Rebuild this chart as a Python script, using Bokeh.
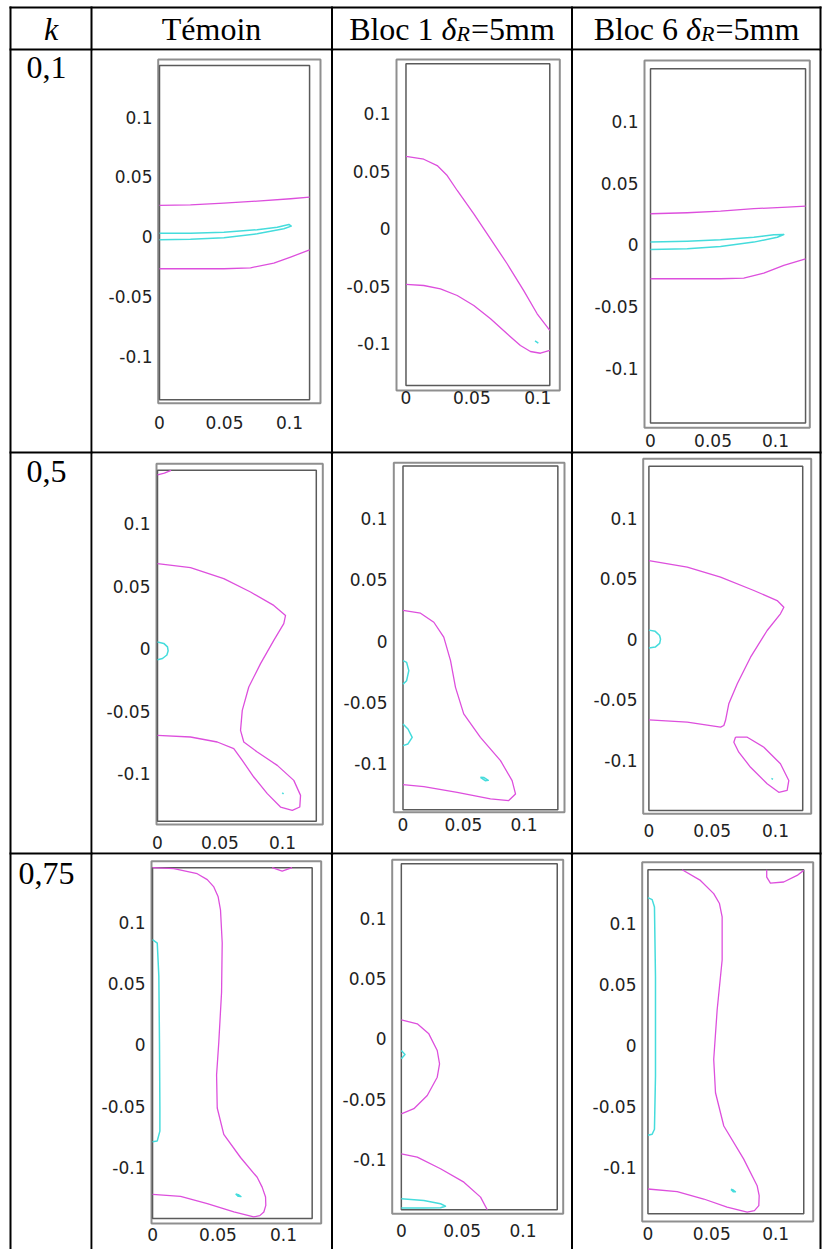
from bokeh.plotting import figure
from bokeh.models import Range1d, FixedTicker
from bokeh.core.properties import value
from bokeh.embed import file_html
from bokeh.resources import INLINE

# ---------------- table texts ----------------
header_k = "k"
header_temoin = "Témoin"
header_bloc = ["Bloc 1 ", "Bloc 6 "]
header_delta = "δ"
header_sub = "R"
header_tail = "=5mm"
row_labels = ["0,1", "0,5", "0,75"]

x_ticks = [0.0, 0.05, 0.1]
x_tick_labels = ["0", "0.05", "0.1"]
y_ticks = [0.1, 0.05, 0.0, -0.05, -0.1]
y_tick_labels = ["0.1", "0.05", "0", "-0.05", "-0.1"]

# ---------------- geometry: (x0, x1, y0, y1) ----------------
p11_outer = [-0.001, 0.1238, -0.1391, 0.1482]
p11_inner = [0.0, 0.1154, -0.1362, 0.1432]
p12_outer = [-0.0072, 0.1168, -0.1406, 0.1472]
p12_inner = [0.0, 0.1092, -0.1363, 0.1435]
p13_outer = [-0.0048, 0.1274, -0.1483, 0.1496]
p13_inner = [0.0, 0.124, -0.1445, 0.1429]
p21_outer = [-0.0008, 0.1322, -0.1406, 0.148]
p21_inner = [0.0, 0.127, -0.138, 0.1428]
p22_outer = [-0.0076, 0.1335, -0.1395, 0.1456]
p22_inner = [0.0, 0.128, -0.1374, 0.1429]
p23_outer = [-0.0045, 0.1282, -0.1445, 0.1493]
p23_inner = [0.0, 0.1215, -0.1418, 0.1432]
p31_outer = [-0.0008, 0.1288, -0.1453, 0.1495]
p31_inner = [0.0, 0.1219, -0.1413, 0.1442]
p32_outer = [-0.0075, 0.133, -0.1449, 0.1482]
p32_inner = [0.0, 0.1281, -0.1416, 0.1449]
p33_outer = [-0.0045, 0.1294, -0.1441, 0.1498]
p33_inner = [0.0, 0.122, -0.1378, 0.1436]

# ---------------- contour lines (magenta m*, cyan c*) ----------------
# k = 0.1, Témoin
p11_m1_x = [0, 0.0238, 0.0495, 0.0751, 0.1008, 0.1154]
p11_m1_y = [0.0262, 0.0267, 0.0281, 0.0298, 0.0318, 0.0331]
p11_m2_x = [0, 0.0238, 0.0495, 0.0700, 0.0879, 0.1008, 0.1154]
p11_m2_y = [-0.0267, -0.0267, -0.0267, -0.0259, -0.0221, -0.0170, -0.0109]
p11_c1_x = [0, 0.0238, 0.0495, 0.0751, 0.0905, 0.0995, 0.1013, 0.0956, 0.0751, 0.0495, 0.0238, 0]
p11_c1_y = [0.0030, 0.0030, 0.0038, 0.0059, 0.0080, 0.0103, 0.0089, 0.0067, 0.0025, -0.0008, -0.0020, -0.0025]
# k = 0.1, Bloc 1
p12_m1_x = [0, 0.0135, 0.0237, 0.0313, 0.0389, 0.0515, 0.0642, 0.0768, 0.0894, 0.0996, 0.1092]
p12_m1_y = [0.0629, 0.0605, 0.055, 0.0463, 0.0333, 0.013, -0.0087, -0.0304, -0.0537, -0.0739, -0.0884]
p12_m2_x = [0, 0.0135, 0.0262, 0.0389, 0.0515, 0.0642, 0.0768, 0.0869, 0.0945, 0.1021, 0.1092]
p12_m2_y = [-0.0484, -0.0493, -0.0522, -0.058, -0.0667, -0.0783, -0.0913, -0.1015, -0.1067, -0.1082, -0.1058]
p12_c1_x = [0.0980, 0.1005]
p12_c1_y = [-0.0974, -0.0994]
# k = 0.1, Bloc 6
p13_m1_x = [0, 0.0294, 0.056, 0.0826, 0.1094, 0.124]
p13_m1_y = [0.0253, 0.0261, 0.0274, 0.0294, 0.0307, 0.0315]
p13_m2_x = [0, 0.0294, 0.056, 0.0746, 0.0906, 0.1066, 0.124]
p13_m2_y = [-0.0274, -0.0274, -0.0274, -0.0269, -0.0229, -0.0166, -0.0112]
p13_c1_x = [0, 0.0294, 0.056, 0.0826, 0.0986, 0.1066, 0.1014, 0.0826, 0.056, 0.0294, 0]
p13_c1_y = [0.0023, 0.0031, 0.0042, 0.0063, 0.0083, 0.0085, 0.0063, 0.0023, -0.0012, -0.0031, -0.0036]
# k = 0.5, Témoin
p21_m1_x = [0, 0.0055, 0.0109]
p21_m1_y = [0.1392, 0.1405, 0.1428]
p21_m2_x = [0, 0.0264, 0.053, 0.0744, 0.093, 0.1024, 0.101, 0.093, 0.0824, 0.073, 0.0678, 0.0664, 0.069,
            0.0798, 0.0958, 0.109, 0.1144, 0.1138, 0.1078, 0.0984, 0.0878, 0.077, 0.0678, 0.061, 0.0478, 0.0264, 0]
p21_m2_y = [0.0681, 0.0649, 0.0561, 0.0454, 0.0347, 0.0267, 0.0201, 0.0067, -0.0119, -0.0306, -0.0493, -0.0653,
            -0.0746, -0.0826, -0.0933, -0.1053, -0.1173, -0.1266, -0.1293, -0.1266, -0.1159, -0.1026, -0.0893,
            -0.0799, -0.0746, -0.0706, -0.0693]
p21_c1_x = [0, 0.005, 0.008, 0.0085, 0.0075, 0.004, 0]
p21_c1_y = [0.0054, 0.0043, 0.0015, -0.0017, -0.005, -0.0078, -0.0087]
p21_c2_x = [0.0998, 0.1008]
p21_c2_y = [-0.1152, -0.1162]
# k = 0.5, Bloc 1
p22_m1_x = [0, 0.0145, 0.0255, 0.0337, 0.0393, 0.0434, 0.0502, 0.064, 0.0806, 0.0902, 0.093, 0.0874, 0.0723,
            0.0448, 0.0172, 0]
p22_m1_y = [0.0251, 0.0229, 0.0155, 0.0033, -0.0158, -0.0376, -0.0593, -0.0784, -0.0974, -0.1137, -0.1246,
            -0.13, -0.1287, -0.1233, -0.1186, -0.117]
p22_c1_x = [0, 0.003, 0.0048, 0.003, 0]
p22_c1_y = [-0.0158, -0.0172, -0.024, -0.0322, -0.035]
p22_c2_x = [0, 0.0041, 0.0076, 0.0041, 0]
p22_c2_y = [-0.0675, -0.0716, -0.0784, -0.0838, -0.0852]
p22_c3_x = [0.064, 0.067, 0.0705, 0.068, 0.064]
p22_c3_y = [-0.111, -0.1112, -0.1135, -0.1138, -0.111]
# k = 0.5, Bloc 6
p23_m1_x = [0, 0.0303, 0.0566, 0.0829, 0.1013, 0.1066, 0.1039, 0.0934, 0.0803, 0.0698, 0.0631, 0.0605, 0.0592,
            0.0566, 0.0303, 0]
p23_m1_y = [0.0651, 0.0596, 0.0513, 0.0403, 0.032, 0.0265, 0.021, 0.0072, -0.0149, -0.0369, -0.0535, -0.0673,
            -0.0714, -0.0728, -0.0687, -0.0667]
p23_m2_x = [0.0684, 0.0777, 0.0908, 0.1039, 0.1105, 0.1092, 0.1026, 0.0934, 0.0803, 0.071, 0.0671, 0.0684]
p23_m2_y = [-0.0811, -0.0811, -0.0894, -0.1031, -0.117, -0.1252, -0.1267, -0.1197, -0.106, -0.0935, -0.0853, -0.0811]
p23_c1_x = [0, 0.005, 0.0085, 0.0092, 0.0085, 0.005, 0]
p23_c1_y = [0.0075, 0.0065, 0.003, 0, -0.0035, -0.0065, -0.0072]
p23_c2_x = [0.0968, 0.098]
p23_c2_y = [-0.1152, -0.116]
# k = 0.75, Témoin
p31_m1_x = [0, 0.0163, 0.0341, 0.0418, 0.0468, 0.0501, 0.0519, 0.0532, 0.0527, 0.0506, 0.0489, 0.0494, 0.0544,
            0.0672, 0.0799, 0.0837, 0.0863, 0.0865, 0.085, 0.0819, 0.0773, 0.0621, 0.0418, 0.0214, 0]
p31_m1_y = [0.1442, 0.1434, 0.1393, 0.1345, 0.1286, 0.1205, 0.1098, 0.083, 0.0427, 0.0024, -0.0245, -0.0513,
            -0.0728, -0.0916, -0.1077, -0.1157, -0.1238, -0.1305, -0.1359, -0.1389, -0.1399, -0.1359, -0.1292,
            -0.1232, -0.1216]
p31_m2_x = [0.0914, 0.099, 0.1066]
p31_m2_y = [0.1442, 0.1415, 0.1442]
p31_c1_x = [0, 0.0036, 0.0048, 0.0053, 0.0056, 0.0056, 0.0036, 0]
p31_c1_y = [0.0856, 0.0829, 0.056, 0.0024, -0.0513, -0.0701, -0.0781, -0.0787]
p31_c2_x = [0.0635, 0.0655, 0.0675, 0.0655, 0.0635]
p31_c2_y = [-0.1212, -0.1218, -0.1234, -0.1232, -0.1212]
# k = 0.75, Bloc 1
p32_m1_x = [0, 0.0131, 0.0226, 0.0295, 0.0314, 0.0295, 0.0213, 0.0103, 0]
p32_m1_y = [0.0157, 0.0124, 0.0041, -0.0097, -0.0207, -0.0318, -0.0469, -0.0579, -0.0621]
p32_m2_x = [0, 0.0131, 0.0322, 0.0514, 0.0651, 0.0706]
p32_m2_y = [-0.0952, -0.098, -0.1076, -0.1187, -0.1311, -0.1416]
p32_c1_x = [0, 0.0185, 0.0322, 0.0363, 0.0322, 0.0185, 0]
p32_c1_y = [-0.1325, -0.1339, -0.1366, -0.1386, -0.1399, -0.1402, -0.14]
p32_c2_x = [0, 0.003, 0]
p32_c2_y = [-0.0097, -0.013, -0.0166]
# k = 0.75, Bloc 6
p33_m1_x = [0.0268, 0.0411, 0.0515, 0.056, 0.0581, 0.0581, 0.0542, 0.0515, 0.0529, 0.0594, 0.075, 0.0855,
            0.0871, 0.0868, 0.0834, 0.0777, 0.062, 0.0437, 0.0229, 0]
p33_m1_y = [0.1436, 0.1349, 0.1241, 0.116, 0.105, 0.0698, 0.0291, -0.0116, -0.0388, -0.066, -0.0931, -0.1148,
            -0.123, -0.1311, -0.1352, -0.1365, -0.1324, -0.1257, -0.1197, -0.1175]
p33_m2_x = [0.093, 0.093, 0.0959, 0.1063, 0.1168, 0.122]
p33_m2_y = [0.1436, 0.1376, 0.1327, 0.1336, 0.139, 0.1431]
p33_c1_x = [0, 0.0033, 0.0051, 0.0059, 0.0059, 0.0051, 0.0033, 0]
p33_c1_y = [0.1208, 0.1192, 0.1132, 0.0562, -0.0252, -0.0686, -0.0727, -0.0735]
p33_c2_x = [0.065, 0.0668, 0.0685, 0.0668, 0.065]
p33_c2_y = [-0.1178, -0.1183, -0.1198, -0.1197, -0.1178]

panels = [
    [dict(outer=p11_outer, inner=p11_inner,
          mag=[(p11_m1_x, p11_m1_y), (p11_m2_x, p11_m2_y)], cyan=[(p11_c1_x, p11_c1_y)]),
     dict(outer=p12_outer, inner=p12_inner,
          mag=[(p12_m1_x, p12_m1_y), (p12_m2_x, p12_m2_y)], cyan=[(p12_c1_x, p12_c1_y)]),
     dict(outer=p13_outer, inner=p13_inner,
          mag=[(p13_m1_x, p13_m1_y), (p13_m2_x, p13_m2_y)], cyan=[(p13_c1_x, p13_c1_y)])],
    [dict(outer=p21_outer, inner=p21_inner,
          mag=[(p21_m1_x, p21_m1_y), (p21_m2_x, p21_m2_y)], cyan=[(p21_c1_x, p21_c1_y), (p21_c2_x, p21_c2_y)]),
     dict(outer=p22_outer, inner=p22_inner,
          mag=[(p22_m1_x, p22_m1_y)],
          cyan=[(p22_c1_x, p22_c1_y), (p22_c2_x, p22_c2_y), (p22_c3_x, p22_c3_y)]),
     dict(outer=p23_outer, inner=p23_inner,
          mag=[(p23_m1_x, p23_m1_y), (p23_m2_x, p23_m2_y)], cyan=[(p23_c1_x, p23_c1_y), (p23_c2_x, p23_c2_y)])],
    [dict(outer=p31_outer, inner=p31_inner,
          mag=[(p31_m1_x, p31_m1_y), (p31_m2_x, p31_m2_y)], cyan=[(p31_c1_x, p31_c1_y), (p31_c2_x, p31_c2_y)]),
     dict(outer=p32_outer, inner=p32_inner,
          mag=[(p32_m1_x, p32_m1_y), (p32_m2_x, p32_m2_y)], cyan=[(p32_c1_x, p32_c1_y), (p32_c2_x, p32_c2_y)]),
     dict(outer=p33_outer, inner=p33_inner,
          mag=[(p33_m1_x, p33_m1_y), (p33_m2_x, p33_m2_y)], cyan=[(p33_c1_x, p33_c1_y), (p33_c2_x, p33_c2_y)])],
]

# ---------------- layout (page pixels) ----------------
PAGE_W, PAGE_H = 824, 1249
V_LINES = [10, 91, 331.5, 571.5, 820]          # table column rules
H_LINES = [7, 49, 452, 853]                    # table row rules
RULE_W = 2
COL_BOX = [(11, 90), (92, 330), (333, 570), (573, 819)]
ROW_BOX = [(8, 48), (50, 451), (453, 852), (854, 1249)]

# page position of each panel's outer rectangle: left, top, right, bottom
FRAMES = [
    [(157.7, 59, 320, 402.7), (396, 59, 559.3, 390), (644, 60, 809.3, 427.3)],
    [(156, 463.3, 322.3, 824), (393.3, 462.3, 564, 811.7), (642.7, 458.3, 810.7, 813.3)],
    [(151, 860.7, 320.7, 1223), (391.7, 859.3, 562.7, 1213.3), (641.7, 861.7, 812.7, 1221)],
]
X_STANDOFF = [[10, -2, 4], [9, 3, 8], [2, 8, 3]]
PAD = 2

MAGENTA = "#dd4fdd"
CYAN = "#45dcdc"
SERIF = "Liberation Serif"
TXT_SIZE = 32
BASE_SHIFT = 10                      # the glyph baseline renders this much below the anchor
HEADER_BASE = 38 - BASE_SHIFT
ROW_BASE = [77 - BASE_SHIFT, 481 - BASE_SHIFT, 883 - BASE_SHIFT]
ROW_LABEL_X = 46


def absolute(left, top):
    return {"position": "absolute", "left": f"{left}px", "top": f"{top}px"}


# ---------------- background: table rules and texts ----------------
bg = figure(width=PAGE_W, height=PAGE_H, x_range=Range1d(0, PAGE_W), y_range=Range1d(PAGE_H, 0),
            x_axis_location=None, y_axis_location=None, output_backend="svg", toolbar_location=None,
            min_border=0, min_border_left=0, min_border_right=0, min_border_top=0, min_border_bottom=0,
            styles=absolute(0, 0))
bg.grid.visible = False
bg.outline_line_color = None
bg.background_fill_color = "white"
bg.border_fill_color = "white"

top_y = H_LINES[0] - RULE_W / 2
bg.segment(x0=V_LINES, y0=[top_y] * len(V_LINES), x1=V_LINES, y1=[PAGE_H] * len(V_LINES),
           line_color="black", line_width=RULE_W)
left_x = V_LINES[0] - RULE_W / 2
right_x = V_LINES[-1] + RULE_W / 2
bg.segment(x0=[left_x] * len(H_LINES), y0=H_LINES, x1=[right_x] * len(H_LINES), y1=H_LINES,
           line_color="black", line_width=RULE_W)

txt = dict(text_font=value(SERIF), text_font_size=f"{TXT_SIZE}px", text_baseline="alphabetic",
           text_color="black")
bg.text(x=[(COL_BOX[0][0] + COL_BOX[0][1]) / 2], y=[HEADER_BASE], text=[header_k],
        text_font_style="italic", text_align="center", **txt)
bg.text(x=[(COL_BOX[1][0] + COL_BOX[1][1]) / 2], y=[HEADER_BASE], text=[header_temoin],
        text_align="center", **txt)

# approximate widths of the header pieces (px), to set them side by side
SUB_SIZE = 22
W_BLOC = 2.889 * TXT_SIZE
W_DELTA = 0.50 * TXT_SIZE
W_SUB = 0.611 * SUB_SIZE
W_TAIL = 2.62 * TXT_SIZE
total = W_BLOC + W_DELTA + W_SUB + W_TAIL
for k, lab in enumerate(header_bloc):
    c0, c1 = COL_BOX[2 + k]
    x0 = (c0 + c1) / 2 - total / 2
    bg.text(x=[x0], y=[HEADER_BASE], text=[lab], text_align="left", **txt)
    bg.text(x=[x0 + W_BLOC], y=[HEADER_BASE], text=[header_delta], text_font_style="italic",
            text_align="left", **txt)
    bg.text(x=[x0 + W_BLOC + W_DELTA - 1], y=[HEADER_BASE + 5], text=[header_sub], text_font=value(SERIF),
            text_font_size=f"{SUB_SIZE}px", text_font_style="italic", text_align="left",
            text_baseline="alphabetic", text_color="black")
    bg.text(x=[x0 + W_BLOC + W_DELTA + W_SUB], y=[HEADER_BASE], text=[header_tail], text_align="left", **txt)

bg.text(x=[ROW_LABEL_X] * 3, y=ROW_BASE, text=row_labels, text_align="center", **txt)


# ---------------- panels ----------------
def panel_fig(panel, frame, r, c, xstand):
    cl, cr = COL_BOX[c]
    ct, cb = ROW_BOX[r]
    FL, FT, FR, FB = frame
    fl, fr = round(FL - PAD), round(FR + PAD)
    ft, fb = round(FT - PAD), round(FB + PAD)
    ox0, ox1, oy0, oy1 = panel["outer"]
    sx = (FR - FL) / (ox1 - ox0)
    sy = (FB - FT) / (oy1 - oy0)
    xr = Range1d(ox0 - (FL - fl) / sx, ox1 + (fr - FR) / sx)
    yr = Range1d(oy0 - (fb - FB) / sy, oy1 + (FT - ft) / sy)
    p = figure(width=cr - cl, height=cb - ct, x_range=xr, y_range=yr,
               output_backend="svg", toolbar_location=None,
               min_border_left=fl - cl, min_border_right=cr - fr,
               min_border_top=ft - ct, min_border_bottom=cb - fb,
               styles=absolute(cl, ct))
    p.grid.visible = False
    p.outline_line_color = None
    p.background_fill_color = "white"
    p.border_fill_color = "white"
    p.xaxis.ticker = FixedTicker(ticks=x_ticks)
    p.xaxis.major_label_overrides = {t: s for t, s in zip(x_ticks, x_tick_labels)}
    p.yaxis.ticker = FixedTicker(ticks=y_ticks)
    p.yaxis.major_label_overrides = {t: s for t, s in zip(y_ticks, y_tick_labels)}
    for ax in (p.xaxis, p.yaxis):
        ax.axis_line_color = None
        ax.major_tick_line_color = None
        ax.minor_tick_line_color = None
        ax.major_tick_out = 0
        ax.major_tick_in = 0
        ax.major_label_text_font = "DejaVu Sans"
        ax.major_label_text_font_size = "17px"
        ax.major_label_text_color = "#222222"
    p.yaxis.major_label_standoff = 4
    p.xaxis.major_label_standoff = xstand

    o = panel["outer"]
    i = panel["inner"]
    p.quad(left=[o[0]], right=[o[1]], bottom=[o[2]], top=[o[3]], fill_color=None,
           line_color="#8f8f8f", line_width=2)
    p.quad(left=[i[0]], right=[i[1]], bottom=[i[2]], top=[i[3]], fill_color=None,
           line_color="#5a5a5a", line_width=1.5)
    for xs, ys in panel["mag"]:
        p.line(xs, ys, line_color=MAGENTA, line_width=1.3, line_join="round")
    for xs, ys in panel["cyan"]:
        p.line(xs, ys, line_color=CYAN, line_width=1.5, line_join="round")
    return p


roots = [bg]
for r in range(3):
    for c in range(3):
        roots.append(panel_fig(panels[r][c], FRAMES[r][c], r + 1, c + 1, X_STANDOFF[r][c]))

open("out.html", "w").write(file_html(roots, INLINE))
